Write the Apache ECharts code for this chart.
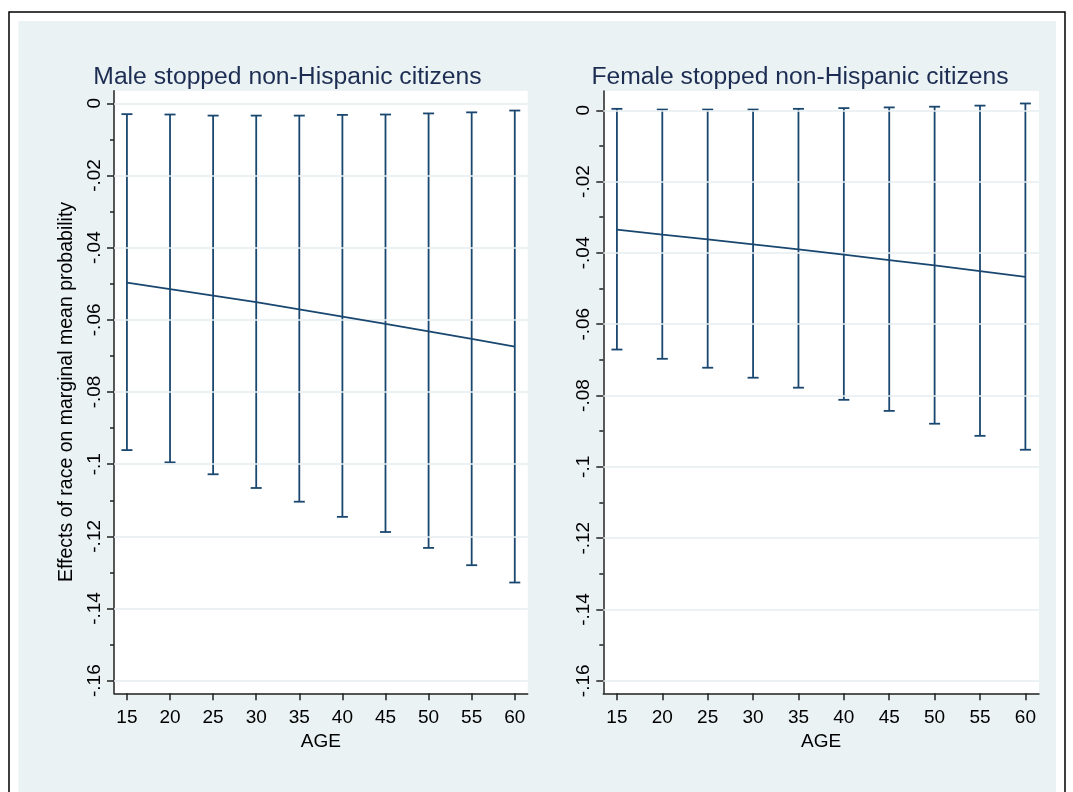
<!DOCTYPE html>
<html>
<head>
<meta charset="utf-8">
<script src="https://cdn.jsdelivr.net/npm/echarts@6/dist/echarts.min.js"></script>
<style>html,body{margin:0;padding:0;background:#fff}#c{width:1073px;height:792px}</style>
</head>
<body>
<div id="c"></div>
<script>
// ---- data ----
const ages = [15, 20, 25, 30, 35, 40, 45, 50, 55, 60];
const maleEst = [-0.0497, -0.0515, -0.0533, -0.0551, -0.0571, -0.0591, -0.0611, -0.0632, -0.0653, -0.0674];
const maleLo  = [-0.0961, -0.0995, -0.1028, -0.1066, -0.1104, -0.1146, -0.1188, -0.1232, -0.1280, -0.1328];
const maleHi  = [-0.0030, -0.0031, -0.0034, -0.0034, -0.0034, -0.0032, -0.0031, -0.0028, -0.0025, -0.0020];
const femEst  = [-0.0335, -0.0349, -0.0362, -0.0376, -0.0390, -0.0405, -0.0420, -0.0435, -0.0451, -0.0467];
const femLo   = [-0.0671, -0.0697, -0.0722, -0.0750, -0.0778, -0.0812, -0.0843, -0.0879, -0.0913, -0.0952];
const femHi   = [0.0004, 0.0002, 0.0002, 0.0002, 0.0004, 0.0006, 0.0008, 0.0010, 0.0013, 0.0019];
const yTicks  = [0, -0.02, -0.04, -0.06, -0.08, -0.1, -0.12, -0.14, -0.16];
const yMinor  = [-0.01, -0.03, -0.05, -0.07, -0.09, -0.11, -0.13, -0.15];
const titles  = ['Male stopped non-Hispanic citizens', 'Female stopped non-Hispanic citizens'];
const xName = 'AGE';
const yName = 'Effects of race on marginal mean probability';

// ---- style ----
const NAVY = '#1a476f';
const FONT = 'Liberation Sans, Arial, Helvetica, sans-serif';
const BG = '#eaf2f3';
const FS = 19;

function fmt(v) {
  if (Math.abs(v) < 1e-9) return '0';
  return v.toFixed(2).replace(/0+$/, '').replace('-0.', '-.');
}

const chart = echarts.init(document.getElementById('c'), null, {renderer: 'canvas'});

const grids = [
  {left: 114, top: 90.7, width: 413.7, height: 602.6, show: true, backgroundColor: '#fff', borderWidth: 0},
  {left: 603.3, top: 91, width: 435.7, height: 602.3, show: true, backgroundColor: '#fff', borderWidth: 0}
];
const yRanges = [[-0.1635, 0.0035], [-0.1635, 0.0054]];

const xAxes = [0, 1].map(i => ({
  type: 'value', gridIndex: i, min: 13.5, max: 61.5,
  name: xName, nameLocation: 'middle', nameGap: 33,
  nameTextStyle: {fontFamily: FONT, fontSize: FS, color: '#000'},
  axisLine: {show: true, onZero: false, lineStyle: {color: '#222', width: 1.5}},
  axisTick: {show: true, length: 7, customValues: ages, lineStyle: {color: '#222', width: 1.5}},
  axisLabel: {show: true, customValues: ages, margin: 15, fontFamily: FONT, fontSize: FS, color: '#000'},
  splitLine: {show: false}
}));

const yAxes = [];
[0, 1].forEach(i => {
  yAxes.push({
    type: 'value', gridIndex: i, position: 'left', min: yRanges[i][0], max: yRanges[i][1],
    name: i === 0 ? yName : '', nameLocation: 'middle', nameGap: 37, nameRotate: 90,
    nameTextStyle: {fontFamily: FONT, fontSize: 19.5, color: '#000'},
    axisLine: {show: true, onZero: false, lineStyle: {color: '#222', width: 1.5}},
    axisTick: {show: true, length: 7, customValues: yTicks, lineStyle: {color: '#222', width: 1.5}},
    axisLabel: {show: true, customValues: yTicks, rotate: 90, margin: 10, formatter: fmt,
      fontFamily: FONT, fontSize: FS, color: '#000'},
    splitLine: {show: false}
  });
  yAxes.push({
    type: 'value', gridIndex: i, position: 'left', offset: 0, min: yRanges[i][0], max: yRanges[i][1],
    axisLine: {show: false, onZero: false},
    axisTick: {show: true, length: 4, customValues: yMinor, lineStyle: {color: '#222', width: 1.5}},
    axisLabel: {show: false},
    splitLine: {show: false}
  });
});

function errorSeries(gi, lo, hi) {
  return {
    type: 'custom', xAxisIndex: gi, yAxisIndex: gi * 2, z: 4, silent: true,
    data: ages.map((a, k) => [a, lo[k], hi[k]]),
    renderItem: function (params, api) {
      const x = api.value(0);
      const pLo = api.coord([x, api.value(1)]);
      const pHi = api.coord([x, api.value(2)]);
      const hw = 5.5;
      const st = {stroke: NAVY, lineWidth: 1.8};
      return {
        type: 'group',
        children: [
          {type: 'line', shape: {x1: pLo[0], y1: pLo[1], x2: pHi[0], y2: pHi[1]}, style: st},
          {type: 'line', shape: {x1: pLo[0] - hw, y1: pLo[1], x2: pLo[0] + hw, y2: pLo[1]}, style: st},
          {type: 'line', shape: {x1: pHi[0] - hw, y1: pHi[1], x2: pHi[0] + hw, y2: pHi[1]}, style: st}
        ]
      };
    }
  };
}

function gridLineSeries(gi) {
  return {
    type: 'line', xAxisIndex: gi, yAxisIndex: gi * 2, data: [], z: 1, silent: true,
    markLine: {
      silent: true, symbol: 'none', label: {show: false},
      lineStyle: {color: '#e6eef0', width: 1.5, type: 'solid'},
      data: yTicks.map(v => ({yAxis: v}))
    }
  };
}

function estSeries(gi, est) {
  return {
    type: 'line', xAxisIndex: gi, yAxisIndex: gi * 2, z: 5, silent: true,
    data: ages.map((a, k) => [a, est[k]]),
    showSymbol: false, symbol: 'none',
    lineStyle: {color: NAVY, width: 1.8}
  };
}

const option = {
  backgroundColor: '#fff',
  animation: false,
  graphic: {
    elements: [
      {type: 'rect', z: -10, silent: true, shape: {x: 9, y: 12, width: 1056, height: 800},
        style: {fill: '#fff', stroke: '#000', lineWidth: 1.5}},
      {type: 'rect', z: -9, silent: true, shape: {x: 18.5, y: 21, width: 1037.5, height: 800},
        style: {fill: BG}}
    ]
  },
  title: [
    {text: titles[0], left: 282.5, top: 60, textAlign: 'center',
      textStyle: {fontFamily: FONT, fontSize: 24.7, fontWeight: 'normal', color: '#1c2c52'}},
    {text: titles[1], left: 795, top: 60, textAlign: 'center',
      textStyle: {fontFamily: FONT, fontSize: 24.7, fontWeight: 'normal', color: '#1c2c52'}}
  ],
  grid: grids,
  xAxis: xAxes,
  yAxis: yAxes,
  series: [
    gridLineSeries(0), gridLineSeries(1),
    errorSeries(0, maleLo, maleHi), errorSeries(1, femLo, femHi),
    estSeries(0, maleEst), estSeries(1, femEst)
  ]
};
chart.setOption(option);
</script>
</body>
</html>
